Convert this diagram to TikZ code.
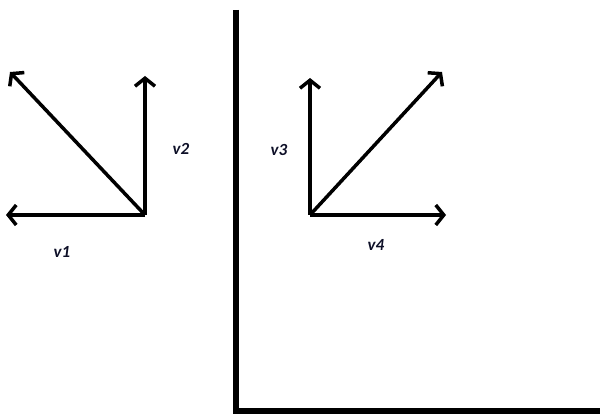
\documentclass[tikz,border=0pt]{standalone}
\usepackage{fontspec}
\setmainfont{Carlito}
\usepackage{xcolor}
\usepackage{tikz}
\usetikzlibrary{arrows.meta}
\definecolor{ink}{RGB}{0,0,0}
\definecolor{lblink}{RGB}{14,16,40}
\tikzset{
  vec/.style={-{Straight Barb[length=8pt,width=20pt,line width=3.5pt]}, line width=3.5pt, color=ink},
  axis/.style={line width=6.5pt, color=ink},
  vlbl/.style={font=\bfseries\itshape\fontsize{17}{19}\selectfont, text=lblink, inner sep=1pt},
}

\begin{document}
\begin{tikzpicture}[x=1pt, y=-1pt]
  \useasboundingbox (0,0) rectangle (600,414);
  % left pair
  \coordinate (o1) at (145,215);
  \coordinate (t1) at (6,215);
  \coordinate (t2) at (145,76);
  \coordinate (t12) at (10,72);
  \draw[vec] (o1) -- (t1);
  \draw[vec] (o1) -- (t2);
  \draw[vec] (o1) -- (t12);
  \node[vlbl] (v1) at (62,252) {v1};
  \node[vlbl] (v2) at (181,149) {v2};
  % right pair
  \coordinate (o2) at (310,215);
  \coordinate (t3) at (310,78);
  \coordinate (t4) at (446,215);
  \coordinate (t34) at (442,72);
  \draw[vec] (o2) -- (t3);
  \draw[vec] (o2) -- (t4);
  \draw[vec] (o2) -- (t34);
  \node[vlbl] (v3) at (279,150) {v3};
  \node[vlbl] (v4) at (376,245) {v4};
  % axes
  \coordinate (top) at (236,10);
  \coordinate (corner) at (236,411);
  \coordinate (right) at (600,411);
  \draw[axis] (top) -- (corner) -- (right);
\end{tikzpicture}
\end{document}
